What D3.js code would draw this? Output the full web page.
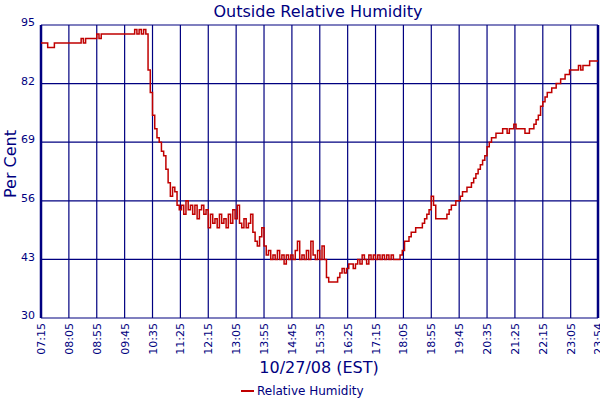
<!DOCTYPE html>
<html>
<head>
<meta charset="utf-8">
<script src="https://cdn.jsdelivr.net/npm/d3@7"></script>
<style>
  body { margin: 0; background: #fff; }
  text { font-family: "DejaVu Sans", Verdana, sans-serif; fill: #000080; }
</style>
</head>
<body>
<svg width="600" height="400"></svg>
<script>

// readings every 4 minutes starting 07:15 on 10/27/08
const start_time  = "2008-10-27 07:15";
const step_min    = 4;
const humidity    = [
  91, 91, 91, 90, 90, 90, 91, 91, 91, 91, 91, 91, 91, 91, 91, 91, 91, 91, 92, 91,
  92, 92, 92, 92, 92, 93, 92, 93, 93, 93, 93, 93, 93, 93, 93, 93, 93, 93, 93, 93,
  93, 93, 94, 93, 94, 93, 94, 93, 85, 80, 75, 72, 70, 69, 67, 66, 63, 60, 57, 59,
  58, 55, 54, 55, 53, 56, 54, 55, 53, 55, 52, 54, 55, 53, 54, 50, 53, 51, 52, 50,
  53, 51, 52, 50, 53, 51, 54, 52, 55, 51, 50, 52, 50, 51, 53, 49, 47, 46, 48, 50,
  46, 44, 45, 43, 44, 43, 45, 43, 44, 42, 44, 43, 44, 43, 45, 47, 43, 44, 43, 45,
  43, 47, 44, 43, 45, 43, 46, 43, 39, 38, 38, 38, 38, 39, 40, 41, 40, 41, 42, 42,
  41, 42, 43, 42, 44, 43, 42, 44, 43, 44, 43, 44, 43, 44, 43, 44, 43, 44, 43, 43,
  43, 44, 45, 47, 47, 48, 49, 49, 50, 50, 50, 51, 52, 53, 54, 57, 55, 52, 52, 52,
  52, 52, 53, 54, 55, 55, 56, 56, 57, 58, 58, 59, 59, 60, 61, 62, 63, 64, 65, 66,
  68, 69, 70, 70, 71, 71, 71, 72, 72, 71, 72, 72, 73, 72, 72, 72, 72, 71, 71, 72,
  72, 73, 74, 75, 77, 78, 79, 80, 80, 81, 81, 82, 82, 83, 83, 84, 84, 85, 85, 85,
  85, 86, 85, 86, 86, 86, 87, 87, 87, 87, 87
];

const x_ticks     = ["07:15", "08:05", "08:55", "09:45", "10:35", "11:25", "12:15",
                     "13:05", "13:55", "14:45", "15:35", "16:25", "17:15", "18:05",
                     "18:55", "19:45", "20:35", "21:25", "22:15", "23:05", "23:54"];
const y_ticks     = [30, 43, 56, 69, 82, 95];

const title       = "Outside Relative Humidity";
const x_title     = "10/27/08 (EST)";
const y_title     = "Per Cent";
const series_name = "Relative Humidity";

const navy        = "#000080";
const red         = "#c00000";

const svg    = d3.select("svg");
const margin = {left: 41, right: 2, top: 25, bottom: 82};
const width  = 600 - margin.left - margin.right;
const height = 400 - margin.top - margin.bottom;

const parse_full = d3.timeParse("%Y-%m-%d %H:%M");
const parse_hm   = s => parse_full("2008-10-27 " + s);
const t0         = parse_full(start_time);

const points = humidity.map((v, i) => ({
  time:  d3.timeMinute.offset(t0, i * step_min),
  value: v
}));

const tick_dates = x_ticks.map(parse_hm);

const x = d3.scaleTime()
  .domain([tick_dates[0], tick_dates[tick_dates.length - 1]])
  .range([0, width]);

const y = d3.scaleLinear()
  .domain([30, 95])
  .range([height, 0]);

const g = svg.append("g")
  .attr("transform", `translate(${margin.left},${margin.top})`);

svg.append("defs").append("clipPath")
  .attr("id", "plot-clip")
  .append("rect")
  .attr("width", width)
  .attr("height", height);

// grid
g.append("g")
  .selectAll("line.vgrid")
  .data(tick_dates)
  .enter()
  .append("line")
  .attr("class", "vgrid")
  .attr("x1", d => x(d))
  .attr("x2", d => x(d))
  .attr("y1", 0)
  .attr("y2", height)
  .style("stroke", navy)
  .style("stroke-width", 1.2);

g.append("g")
  .selectAll("line.hgrid")
  .data(y_ticks)
  .enter()
  .append("line")
  .attr("class", "hgrid")
  .attr("x1", 0)
  .attr("x2", width)
  .attr("y1", d => y(d))
  .attr("y2", d => y(d))
  .style("stroke", navy)
  .style("stroke-width", 1.2);

// frame edges
g.append("line").attr("x1", 0).attr("x2", 0).attr("y1", 0).attr("y2", height)
  .style("stroke", navy).style("stroke-width", 2.5);
g.append("line").attr("x1", width).attr("x2", width).attr("y1", 0).attr("y2", height)
  .style("stroke", navy).style("stroke-width", 2.5);

// data line
const line = d3.line()
  .curve(d3.curveStepAfter)
  .x(d => x(d.time))
  .y(d => y(d.value));

g.append("path")
  .datum(points)
  .attr("clip-path", "url(#plot-clip)")
  .attr("d", line)
  .style("fill", "none")
  .style("stroke", red)
  .style("stroke-width", 1.5);

// y axis labels
g.append("g")
  .selectAll("text.ytick")
  .data(y_ticks)
  .enter()
  .append("text")
  .attr("class", "ytick")
  .attr("x", -6)
  .attr("y", d => y(d))
  .attr("dy", "0.1em")
  .attr("text-anchor", "end")
  .style("font-size", "11px")
  .text(d => d);

// x axis labels, rotated
g.append("g")
  .selectAll("text.xtick")
  .data(tick_dates)
  .enter()
  .append("text")
  .attr("class", "xtick")
  .attr("transform", d => `translate(${x(d) + 4},${height + 5}) rotate(-90)`)
  .attr("text-anchor", "end")
  .style("font-size", "11px")
  .text((d, i) => x_ticks[i]);

// titles
svg.append("text")
  .attr("x", 318)
  .attr("y", 17)
  .attr("text-anchor", "middle")
  .style("font-size", "16px")
  .text(title);

svg.append("text")
  .attr("transform", "translate(16,164) rotate(-90)")
  .attr("text-anchor", "middle")
  .style("font-size", "16px")
  .text(y_title);

svg.append("text")
  .attr("x", 319)
  .attr("y", 373)
  .attr("text-anchor", "middle")
  .style("font-size", "16px")
  .text(x_title);

// legend
svg.append("line")
  .attr("x1", 241).attr("x2", 254)
  .attr("y1", 391).attr("y2", 391)
  .style("stroke", red)
  .style("stroke-width", 2);

svg.append("text")
  .attr("x", 257)
  .attr("y", 395)
  .style("font-size", "12px")
  .text(series_name);

</script>
</body>
</html>
